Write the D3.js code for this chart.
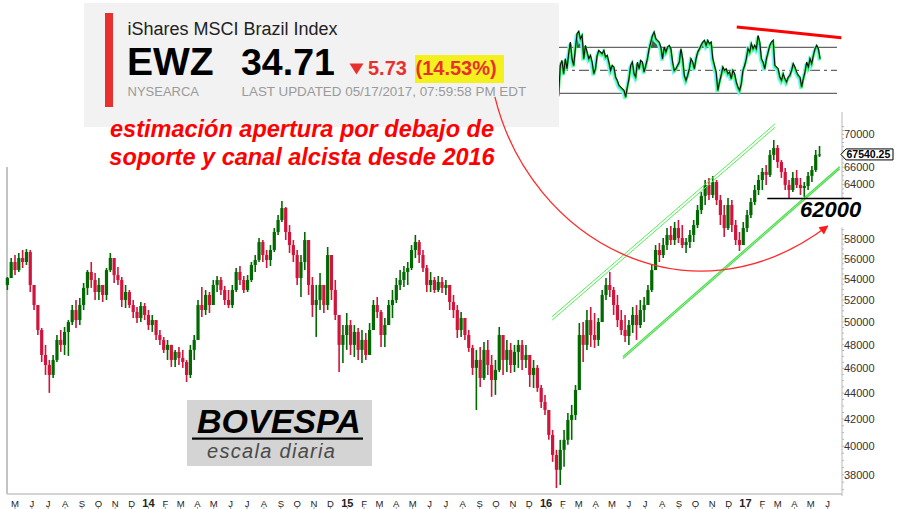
<!DOCTYPE html>
<html><head><meta charset="utf-8">
<script src="https://cdn.jsdelivr.net/npm/d3@7"></script>
<style>
body{margin:0;background:#fff}
svg{display:block}
text{font-family:"Liberation Sans",Arial,sans-serif}
</style>
</head><body>
<svg id="c" width="905" height="509"></svg>
<script>
// ---------------- DATA ----------------
const startDate = "2013-04-17"; // first weekly bar (weekly OHLC)
const ohlc = [
[53430,54200,52950,54100],[54100,56080,54100,55680],[55680,56380,54390,54880],[54880,56590,54690,56080],
[56080,56890,55080,55680],[55680,56990,55380,56690],[56690,56890,52760,53430],[53430,53430,51080,51540],
[51540,51540,48840,49280],[49280,49460,46530,47120],[47120,47980,45460,46280],[46280,46700,44020,45460],
[45460,47120,45210,46700],[46700,48840,46530,48410],[48410,49280,47380,47980],[47980,49550,47120,49110],
[49110,50170,47040,49990],[49990,51540,49720,51080],[51080,52010,49460,50170],[50170,52200,49720,51540],
[51540,53620,51080,53150],[53150,54880,52480,54690],[54690,55680,53150,53910],[53910,54590,52010,52760],
[52760,54100,52010,53430],[53430,53430,51820,52480],[52480,55080,52010,54880],[54880,56590,54690,56080],
[56080,56080,53620,54390],[54390,55180,53430,53910],[53910,54200,51360,52010],[52010,53430,51270,52760],
[52760,52950,51270,51540],[51540,52010,50350,50900],[50900,51360,49900,50350],[50350,51820,49990,51450],
[51450,51730,50170,50630],[50630,51080,49280,49720],[49720,50630,49110,50170],[50170,50170,48410,48840],
[48840,49280,47980,48410],[48410,48670,47290,47550],[47550,48410,46700,47980],[47980,47980,46120,46700],
[46700,47550,46120,47380],[47380,47810,46280,46870],[46870,47550,46040,46530],[46530,46700,44890,45460],
[45460,47980,45210,47550],[47550,48840,46700,48410],[48410,52010,48410,51540],[51540,53240,50450,51080],
[51080,52950,50630,52480],[52480,52760,50810,51540],[51540,53910,51540,53430],[53430,54300,52760,53910],
[53910,54200,52480,52950],[52950,53340,51540,52010],[52010,52950,51270,51540],[51540,53430,51270,52950],
[52950,55080,52760,54690],[54690,55280,53430,53910],[53910,54300,52670,52950],[52950,54390,52760,53910],
[53910,55680,53720,55380],[55380,56380,54690,55880],[55880,58130,55680,57710],[57710,57920,55680,56380],
[56380,56890,55080,55880],[55880,57400,55280,56890],[56890,59180,56690,58760],[58760,60580,58450,60040],
[60040,62120,59830,61340],[61340,61460,57920,58760],[58760,59500,56590,57400],[57400,57920,55680,56380],
[56380,56890,53430,54100],[54100,56380,52290,55680],[55680,58760,54880,57920],[57920,57920,52480,53430],
[53430,54200,50450,51540],[51540,53430,48670,52010],[52010,54590,51080,53430],[53430,53430,50810,51540],
[51540,57200,51080,56380],[56380,56380,52010,52950],[52950,53910,50170,50630],[50630,50630,45700,47980],
[47980,49720,46450,48840],[48840,50810,47550,49720],[49720,50170,47120,47980],[47980,49720,46950,49110],
[49110,49460,46700,47550],[47550,49280,46450,48410],[48410,49020,46700,47120],[47120,49900,47120,49280],
[49280,52010,49280,51540],[51540,52290,50350,50900],[50900,51080,47810,48840],[48840,50350,47810,49720],
[49720,52010,49720,51540],[51540,52950,50350,52010],[52010,54100,51730,53430],[53430,54880,52950,53910],
[53910,55280,53240,54690],[54690,55680,53430,55080],[55080,57400,54880,56890],[56890,58450,56080,57710],
[57710,57920,55580,56380],[56380,56890,54690,55080],[55080,55380,52760,53430],[53430,54690,52760,53910],
[53910,54200,52670,52950],[52950,54300,52760,53720],[53720,54200,52670,53150],[53150,53910,52480,53430],
[53430,53430,51080,51820],[51820,52480,50350,51080],[51080,51540,48580,49280],[49280,50900,48670,50350],
[50350,50350,48410,48840],[48840,49280,47380,47720],[47720,47980,45460,46040],[46040,47550,42690,46700],
[46700,47810,44490,45210],[45210,48240,45050,47550],[47550,48410,45460,46280],[46280,47120,43710,45050],
[45050,46700,43860,45870],[45870,49550,45700,48840],[48840,48840,45460,46700],[46700,48410,45700,47550],
[47550,48150,45620,46280],[46280,47980,45700,47380],[47380,48410,46040,47980],[47980,48410,45870,46700],
[46700,47980,46040,47120],[47120,47120,44490,45460],[45460,46700,44410,46040],[46040,46280,44100,44410],
[44410,44650,42850,43310],[43310,43860,42310,42690],[42690,42690,40460,40820],[40820,41190,38890,39380],
[39380,39740,37110,38340],[38340,40460,37310,39740],[39740,41190,38550,40460],[40460,42460,40100,41930],
[41930,43080,40460,42310],[42310,44650,41930,44250],[44250,49900,44250,48840],[48840,49990,46530,47980],
[47980,51080,47550,50170],[50170,51360,47810,48840],[48840,50810,47720,48410],[48410,50350,47890,49990],
[49990,52950,49990,52480],[52480,54100,52010,53430],[53430,54690,52290,52950],[52950,53240,50630,51540],
[51540,52480,49550,50170],[50170,51080,48840,49280],[49280,50630,48240,48750],[48750,50170,47980,49720],
[49720,51360,49020,50630],[50630,51540,48410,49720],[49720,52010,49460,51080],[51080,52290,49990,51540],
[51540,53430,51540,52950],[52950,55380,52760,54880],[54880,57400,54880,56890],[56890,57610,55680,56380],
[56380,58130,56080,57400],[57400,59180,56890,58450],[58450,59390,57400,57920],[57920,59830,57400,59180],
[59180,60040,57610,58130],[58130,59500,57090,57400],[57400,58130,56590,57710],[57710,58970,57090,58450],
[58450,60040,57710,59500],[59500,61680,59180,61120],[61120,63140,60690,62690],[62690,64510,61680,63940],
[63940,64750,62230,62800],[62800,64980,62460,64280],[64280,64510,61680,62230],[62230,62800,59500,60580],
[60580,61680,58240,59180],[59180,62460,58970,61680],[61680,62230,58760,59500],[59500,60040,57400,57920],
[57920,58760,56790,57400],[57400,59830,57400,59180],[59180,61120,58760,60580],[60580,62460,60260,62010],
[62010,63940,61680,63360],[63360,65100,62800,64510],[64510,65920,63360,65450],[65450,66280,63940,65100],
[65100,68080,64860,67480],[67480,69320,66870,68330],[68330,68700,65920,66630],[66630,66870,64750,65450],
[65450,65920,63360,63940],[63940,64510,62460,63360],[63360,65450,63140,64750],[64750,65680,63590,63940],
[63940,64750,62800,63590],[63590,64280,62580,63820],[63820,65450,63360,64980],[64980,66160,64280,65680],
[65680,68080,65450,67480],[67480,68570,67230,67540]
];
const lastPrice = 67540.25;

const oscStart = "2016-01-24", oscEnd = "2017-05-18";
const osc = [28.3,54.3,58.7,47.1,60.1,51.4,64.5,74.6,60.1,54.3,68.8,81.9,83.9,77.5,80.4,60.1,71.7,65.9,60.1,63.0,
57.2,47.1,51.4,63.0,67.4,65.9,64.5,67.4,61.6,63.0,57.2,50.0,54.3,52.9,44.2,41.3,37.0,35.5,34.1,32.6,
26.8,35.5,42.8,54.3,57.2,47.1,44.2,57.2,51.4,58.7,57.2,48.6,54.3,60.1,68.8,74.6,80.4,83.3,77.5,76.1,
74.6,70.3,60.1,70.3,65.9,70.3,71.7,68.8,57.2,50.0,51.4,54.3,57.2,68.8,60.1,45.7,41.3,45.7,51.4,60.1,
57.2,51.4,60.1,65.9,68.8,71.7,74.6,76.1,71.7,76.1,73.2,74.6,60.1,54.3,48.6,32.6,39.9,45.7,52.9,50.0,
51.4,47.1,48.6,42.8,50.0,47.1,39.9,35.5,32.6,38.4,50.0,54.3,60.1,68.8,65.9,73.2,68.8,71.7,68.8,80.4,
74.6,60.1,57.2,51.4,60.1,65.9,71.7,74.6,76.1,54.3,52.9,51.4,44.2,41.3,47.1,42.8,39.9,44.2,45.7,50.0,
55.8,52.9,48.6,45.7,44.2,35.5,42.8,48.6,57.2,52.9,60.1,55.8,63.0,68.8,71.7,68.8,60.1];
const oscLevels = [30, 50, 70];
const oscTrend = [["2016-12-16", 87.7], ["2017-06-26", 78.4]];

const priceTicks = d3.range(38000, 70001, 2000);
const hiddenTicks = [60000, 62000, 68000];
const monthLetters = ["J","F","M","A","M","J","J","A","S","O","N","D"];

const channelUpper = [[["2016-01-12",50470],["2017-02-24",71330]],[["2016-01-12",50160],["2017-02-24",70890]]];
const channelLower = [[["2016-05-21",46980],["2017-06-23",66070]],[["2016-05-21",46810],["2017-06-23",65830]]];
const support = [["2017-02-10",62400],["2017-07-15",62400]];
const supportLabel = "62000";
const arrowCurve = [["2015-09-29",74880],["2015-12-02",57920],["2016-09-21",49280],["2017-06-01",59390]];

const ticker = {name:"iShares MSCI Brazil Index", sym:"EWZ", price:"34.71", chg:"5.73", pct:"(14.53%)",
  exch:"NYSEARCA", upd:"LAST UPDATED 05/17/2017, 07:59:58 PM EDT"};
const note = ["estimación apertura por debajo de", "soporte y canal alcista desde 2016"];
const badge = ["BOVESPA", "escala diaria"];

// ---------------- CHART ----------------
const svg = d3.select("#c");
const parse = d3.utcParse("%Y-%m-%d");
const x = d3.scaleUtc().domain([parse("2013-05-01"), parse("2017-06-01")]).range([15, 827.7]);
const y = d3.scaleLog().domain([70000, 38000]).range([134.5, 474.8]);
const P = d => [x(parse(d[0])), y(d[1])];

const t0 = parse(startDate);
const bars = ohlc.map((d, i) => ({date: d3.utcDay.offset(t0, 7 * i), o: d[0], h: d[1], l: d[2], c: d[3]}));
const GREEN = "#006a00", RED = "#d1143c";
const col = d => d.c >= d.o ? GREEN : RED;

// frame lines
const axisX = 842, bottomY = 494;
svg.append("line").attr("x1", 7).attr("x2", 7).attr("y1", 167).attr("y2", bottomY).attr("stroke", "#c4c4c4").attr("stroke-width", 2);
svg.append("line").attr("x1", 7).attr("x2", axisX).attr("y1", bottomY).attr("y2", bottomY).attr("stroke", "#c4c4c4").attr("stroke-width", 1.5);

// candles
const gB = svg.append("g");
gB.selectAll("line").data(bars).join("line")
  .attr("x1", d => x(d.date)).attr("x2", d => x(d.date))
  .attr("y1", d => y(d.h)).attr("y2", d => y(d.l))
  .attr("stroke", col).attr("stroke-width", 1.6);
gB.selectAll("rect").data(bars).join("rect")
  .attr("x", d => x(d.date) - 1.6).attr("width", 3.2)
  .attr("y", d => y(Math.max(d.o, d.c)))
  .attr("height", d => Math.max(1, Math.abs(y(d.o) - y(d.c))))
  .attr("fill", col);

// channels
const line2 = (pts, color, w) => svg.append("line")
  .attr("x1", P(pts[0])[0]).attr("y1", P(pts[0])[1]).attr("x2", P(pts[1])[0]).attr("y2", P(pts[1])[1])
  .attr("stroke", color).attr("stroke-width", w);
channelUpper.forEach(p => line2(p, "#55ee55", 1));
channelLower.forEach(p => line2(p, "#44dd44", 1.2));

// right axis
svg.append("line").attr("x1", axisX).attr("x2", axisX).attr("y1", 112).attr("y2", 496).attr("stroke", "#b8b8b8");
svg.selectAll(".mt").data(d3.range(37000, 71001, 500)).join("line")
  .attr("x1", axisX).attr("x2", axisX + 2).attr("y1", d => y(d)).attr("y2", d => y(d)).attr("stroke", "#b8b8b8");
svg.selectAll(".pt").data(priceTicks.filter(v => !hiddenTicks.includes(v))).join("text")
  .attr("x", axisX + 2).attr("y", d => y(d)).attr("dy", "0.36em")
  .attr("font-size", 11).attr("fill", "#333").text(d => d);

// bottom month axis
const months = d3.utcMonth.range(parse("2013-05-01"), parse("2017-06-02"));
const gM = svg.append("g");
gM.selectAll("line").data(months).join("line")
  .attr("x1", d => x(d)).attr("x2", d => x(d)).attr("y1", 507).attr("y2", 509).attr("stroke", "#999");
gM.selectAll("text").data(months).join("text")
  .attr("x", d => x(d)).attr("y", 507).attr("text-anchor", "middle")
  .attr("font-size", d => d.getUTCMonth() === 0 ? 11 : 9.5)
  .attr("font-weight", d => d.getUTCMonth() === 0 ? "bold" : "normal")
  .attr("fill", "#222")
  .text(d => d.getUTCMonth() === 0 ? d3.utcFormat("%y")(d) : monthLetters[d.getUTCMonth()]);

// oscillator panel
const oy = d3.scaleLinear().domain([30, 70]).range([93.3, 47.3]);
const ox = d3.scaleLinear().domain([0, osc.length - 1]).range([x(parse(oscStart)), x(parse(oscEnd))]);
const oscX0 = 558, oscX1 = 837;
svg.selectAll(".lv").data(oscLevels).join("line")
  .attr("x1", oscX0).attr("x2", oscX1).attr("y1", d => oy(d)).attr("y2", d => oy(d))
  .attr("stroke", "#666").attr("stroke-width", 1.3)
  .attr("stroke-dasharray", d => d === 50 ? "10,4,3,4" : null);
svg.append("path").datum(osc)
  .attr("d", d3.area().x((d, i) => ox(i)).y0(oy(70)).y1(d => oy(Math.max(d, 70))))
  .attr("fill", "#3a6a46");
const ol = d3.line().x((d, i) => ox(i)).y(d => oy(d));
svg.append("path").datum(osc).attr("d", ol).attr("fill", "none").attr("stroke", "#7ff5ff").attr("stroke-width", 3).attr("transform", "translate(-1,2)");
svg.append("path").datum(osc).attr("d", ol).attr("fill", "none").attr("stroke", "#22ee44").attr("stroke-width", 2.2).attr("transform", "translate(0,1)");
svg.append("path").datum(osc).attr("d", ol).attr("fill", "none").attr("stroke", "#111").attr("stroke-width", 1.1);
svg.append("line")
  .attr("x1", x(parse(oscTrend[0][0]))).attr("y1", oy(oscTrend[0][1]))
  .attr("x2", x(parse(oscTrend[1][0]))).attr("y2", oy(oscTrend[1][1]))
  .attr("stroke", "#ff0000").attr("stroke-width", 3);

// support + label
svg.append("rect").attr("x", 814).attr("y", 199.5).attr("width", 60).attr("height", 28).attr("fill", "#fff");
svg.append("line").attr("x1", P(support[0])[0]).attr("x2", P(support[1])[0])
  .attr("y1", P(support[0])[1]).attr("y2", P(support[1])[1]).attr("stroke", "#000").attr("stroke-width", 1.5);
svg.append("text").attr("x", 800).attr("y", 216.5).attr("font-size", 22).attr("font-weight", "bold")
  .attr("font-style", "italic").attr("fill", "#000").text(supportLabel);

// ticker box
svg.append("rect").attr("x", 84).attr("y", 3).attr("width", 475).attr("height", 124).attr("fill", "#f2f2f2");
svg.append("rect").attr("x", 105).attr("y", 13).attr("width", 8).attr("height", 94).attr("fill", "#e8312f");
svg.append("text").attr("x", 127.5).attr("y", 34.5).attr("font-size", 18).attr("fill", "#222").text(ticker.name);
svg.append("text").attr("x", 127).attr("y", 75).attr("font-size", 39).attr("font-weight", "bold").attr("fill", "#000").text(ticker.sym);
svg.append("text").attr("x", 241).attr("y", 75).attr("font-size", 37.5).attr("font-weight", "bold").attr("fill", "#000").text(ticker.price);
svg.append("path").attr("d", "M349.5,63.5 L363.5,63.5 L356.5,74.5 Z").attr("fill", "#e8312f");
svg.append("text").attr("x", 368).attr("y", 75).attr("font-size", 20).attr("font-weight", "bold").attr("fill", "#e8312f").text(ticker.chg);
svg.append("rect").attr("x", 415).attr("y", 55).attr("width", 89).attr("height", 28).attr("fill", "#f4f01e");
svg.append("text").attr("x", 415.5).attr("y", 75).attr("font-size", 20).attr("font-weight", "bold").attr("fill", "#e8312f").text(ticker.pct);
svg.append("text").attr("x", 127.5).attr("y", 95.5).attr("font-size", 13).attr("fill", "#9a9a9a").text(ticker.exch);
svg.append("text").attr("x", 241.5).attr("y", 95.5).attr("font-size", 13.4).attr("fill", "#9a9a9a").text(ticker.upd);

// annotation note
svg.selectAll(".note").data(note).join("text")
  .attr("x", 302).attr("y", (d, i) => 137 + i * 27.5).attr("text-anchor", "middle")
  .attr("font-size", 23.5).attr("font-weight", "bold").attr("font-style", "italic").attr("fill", "#ff0000").text(d => d);

// BOVESPA badge
svg.append("rect").attr("x", 187).attr("y", 400).attr("width", 185).attr("height", 66).attr("fill", "#d4d4d4");
svg.append("text").attr("x", 197).attr("y", 433).attr("font-size", 34).attr("font-weight", "bold").attr("font-style", "italic").attr("fill", "#000").text(badge[0]);
svg.append("rect").attr("x", 192).attr("y", 437.5).attr("width", 171).attr("height", 2.2).attr("fill", "#000");
svg.append("text").attr("x", 207).attr("y", 458).attr("font-size", 20).attr("font-style", "italic").attr("letter-spacing", 1.3).attr("fill", "#4a4a4a").text(badge[1]);

// red curved arrow
svg.append("defs").append("marker").attr("id", "ah").attr("viewBox", "0 0 10 10").attr("refX", 9).attr("refY", 5)
  .attr("markerWidth", 10).attr("markerHeight", 9).attr("markerUnits", "userSpaceOnUse").attr("orient", "auto")
  .append("path").attr("d", "M0,0 L10,5 L0,10 Z").attr("fill", "#ff1a1a");
const c = arrowCurve.map(P);
svg.append("path").attr("d", `M${c[0]} C${c[1]} ${c[2]} ${c[3]}`).attr("fill", "none")
  .attr("stroke", "#ff2a2a").attr("stroke-width", 1.3).attr("marker-end", "url(#ah)");

// last price label
const ly = y(lastPrice);
svg.append("path").attr("d", `M${axisX - 1},${ly} L${axisX + 4},${ly - 5.5} L893,${ly - 5.5} L893,${ly + 5.5} L${axisX + 4},${ly + 5.5} Z`)
  .attr("fill", "#fff").attr("stroke", "#000").attr("stroke-width", 1);
svg.append("text").attr("x", axisX + 4.5).attr("y", ly).attr("dy", "0.36em").attr("font-size", 10.5).attr("font-weight", "bold")
  .attr("fill", "#000").text(d3.format(".2f")(lastPrice));
</script>
</body></html>
